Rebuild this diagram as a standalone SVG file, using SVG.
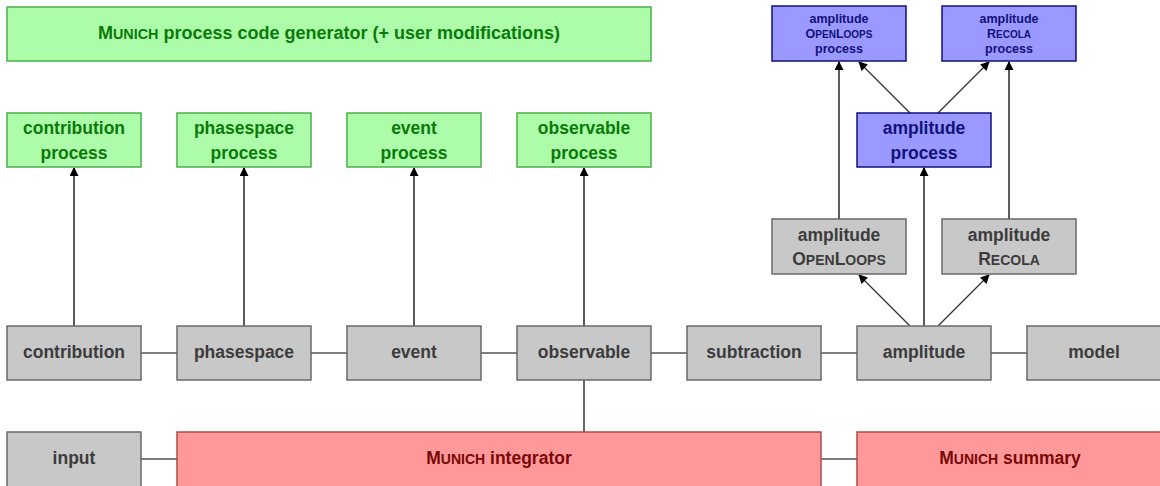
<svg xmlns="http://www.w3.org/2000/svg" width="1160" height="486" viewBox="0 0 1160 486">
<style>
text{font-family:"Liberation Sans",Arial,sans-serif;font-weight:bold;text-anchor:middle;font-size:17.5px}
.sc{font-size:0.8em}
.t{font-size:18px}
.g rect{fill:#c8c8c8;stroke:#6a6a6a;stroke-width:1.5}
.g text{fill:#3c3c3c}
.gr rect{fill:#adfca9;stroke:#4cae4c;stroke-width:1.5}
.gr text{fill:#0a7a0a}
.b rect{fill:#9999ff;stroke:#10107a;stroke-width:1.5}
.b text{fill:#12127a}
.b text.s{font-size:12.5px}
.r rect{fill:#ff9999;stroke:#b04a4a;stroke-width:1.5}
.r text{fill:#7a0808}
.ln{stroke:#555;stroke-width:1.3;fill:none}
.lk{stroke:#000;stroke-width:1.2;fill:none}
.ar{stroke:#000;stroke-width:1.3;fill:none;marker-end:url(#ah)}
.ad{stroke:#333;stroke-width:1.3;fill:none;marker-end:url(#ah)}
</style>
<defs>
<marker id="ah" viewBox="0 0 10 10" refX="9" refY="5" markerWidth="10" markerHeight="9" markerUnits="userSpaceOnUse" orient="auto">
<path d="M0,0 L10,5 L0,10 z" fill="#000"/>
</marker>
</defs>
<g id="connectors">
<line class="ln" x1="141" y1="353" x2="177" y2="353"/>
<line class="ln" x1="311" y1="353" x2="347" y2="353"/>
<line class="ln" x1="481" y1="353" x2="517" y2="353"/>
<line class="ln" x1="651" y1="353" x2="687" y2="353"/>
<line class="ln" x1="821" y1="353" x2="857" y2="353"/>
<line class="ln" x1="991" y1="353" x2="1027" y2="353"/>
<line class="ln" x1="141" y1="459" x2="177" y2="459"/>
<line class="ln" x1="821" y1="459" x2="857" y2="459"/>
<line class="lk" x1="584" y1="380" x2="584" y2="432"/>
<line class="ar" x1="74" y1="326" x2="74" y2="168"/>
<line class="ar" x1="244" y1="326" x2="244" y2="168"/>
<line class="ar" x1="414" y1="326" x2="414" y2="168"/>
<line class="ar" x1="584" y1="326" x2="584" y2="168"/>
<line class="ar" x1="924" y1="326" x2="924" y2="168"/>
<line class="ad" x1="910" y1="326" x2="859" y2="275"/>
<line class="ad" x1="938" y1="326" x2="989" y2="275"/>
<line class="ar" x1="839" y1="219" x2="839" y2="62"/>
<line class="ar" x1="1009" y1="219" x2="1009" y2="62"/>
<line class="ad" x1="910" y1="113" x2="859" y2="62"/>
<line class="ad" x1="938" y1="113" x2="989" y2="62"/>
</g>
<g id="generator" class="gr"><rect x="7" y="7" width="644" height="54"/><text class="t" x="329" y="39">M<tspan class="sc">UNICH</tspan> process code generator (+ user modifications)</text></g>
<g id="contribution-process" class="gr"><rect x="7" y="113" width="134" height="54"/><text x="74" y="134">contribution</text><text x="74" y="159">process</text></g>
<g id="phasespace-process" class="gr"><rect x="177" y="113" width="134" height="54"/><text x="244" y="134">phasespace</text><text x="244" y="159">process</text></g>
<g id="event-process" class="gr"><rect x="347" y="113" width="134" height="54"/><text x="414" y="134">event</text><text x="414" y="159">process</text></g>
<g id="observable-process" class="gr"><rect x="517" y="113" width="134" height="54"/><text x="584" y="134">observable</text><text x="584" y="159">process</text></g>
<g id="amplitude-process" class="b"><rect x="857" y="113" width="134" height="54"/><text x="924" y="134">amplitude</text><text x="924" y="159">process</text></g>
<g id="openloops-process" class="b"><rect x="772" y="6" width="134" height="55"/><text class="s" x="839" y="23">amplitude</text><text class="s" x="839" y="38">O<tspan class="sc">PEN</tspan>L<tspan class="sc">OOPS</tspan></text><text class="s" x="839" y="53">process</text></g>
<g id="recola-process" class="b"><rect x="942" y="6" width="134" height="55"/><text class="s" x="1009" y="23">amplitude</text><text class="s" x="1009" y="38">R<tspan class="sc">ECOLA</tspan></text><text class="s" x="1009" y="53">process</text></g>
<g id="amplitude-openloops" class="g"><rect x="772" y="219" width="134" height="55"/><text x="839" y="241">amplitude</text><text x="839" y="265">O<tspan class="sc">PEN</tspan>L<tspan class="sc">OOPS</tspan></text></g>
<g id="amplitude-recola" class="g"><rect x="942" y="219" width="134" height="55"/><text x="1009" y="241">amplitude</text><text x="1009" y="265">R<tspan class="sc">ECOLA</tspan></text></g>
<g id="contribution" class="g"><rect x="7" y="326" width="134" height="54"/><text x="74" y="358">contribution</text></g>
<g id="phasespace" class="g"><rect x="177" y="326" width="134" height="54"/><text x="244" y="358">phasespace</text></g>
<g id="event" class="g"><rect x="347" y="326" width="134" height="54"/><text x="414" y="358">event</text></g>
<g id="observable" class="g"><rect x="517" y="326" width="134" height="54"/><text x="584" y="358">observable</text></g>
<g id="subtraction" class="g"><rect x="687" y="326" width="134" height="54"/><text x="754" y="358">subtraction</text></g>
<g id="amplitude" class="g"><rect x="857" y="326" width="134" height="54"/><text x="924" y="358">amplitude</text></g>
<g id="model" class="g"><rect x="1027" y="326" width="140" height="54"/><text x="1094" y="358">model</text></g>
<g id="input" class="g"><rect x="7" y="432" width="134" height="60"/><text x="74" y="464">input</text></g>
<g id="integrator" class="r"><rect x="177" y="432" width="644" height="60"/><text x="499" y="464">M<tspan class="sc">UNICH</tspan> integrator</text></g>
<g id="summary" class="r"><rect x="857" y="432" width="310" height="60"/><text x="1010" y="464">M<tspan class="sc">UNICH</tspan> summary</text></g>
</svg>
